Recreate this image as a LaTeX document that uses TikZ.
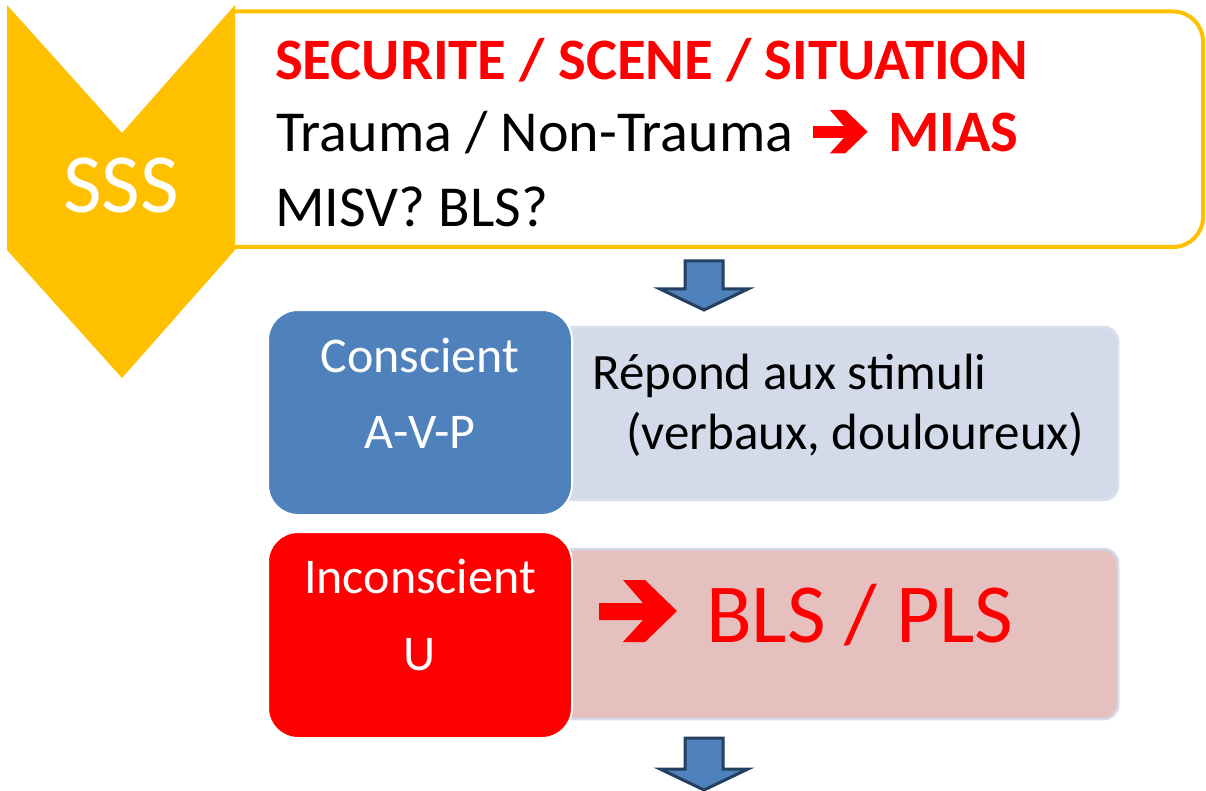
\documentclass[tikz,border=0pt]{standalone}
\usepackage{fontspec}
\setmainfont{Carlito}
\definecolor{sssyellow}{HTML}{FFC000}
\definecolor{accblue}{HTML}{4F81BD}
\definecolor{darkblue}{HTML}{243F60}
\definecolor{lightbox}{HTML}{D3DAEA}
\definecolor{pinkbox}{HTML}{E6BFBF}
\definecolor{pptred}{HTML}{FF0000}
\tikzset{
  downarrow/.style={fill=accblue, draw=darkblue, line width=3pt, line join=miter},
  sidebox/.style={line width=2.5pt},
  mainbox/.style={draw=white, line width=2pt, rounded corners=30pt},
  toptext/.style={anchor=base west, inner sep=0pt, font=\fontsize{58}{70}\selectfont},
  boxtext/.style={anchor=base, inner sep=0pt, text=white, font=\fontsize{50}{60}\selectfont},
  stimtext/.style={anchor=base west, inner sep=0pt, font=\fontsize{51}{62}\selectfont},
  wdarrow/.pic={\fill[pptred] (0,23) -- (44,23) -- (24,0) -- (46,0) -- (78,31) -- (46,62) -- (24,62) -- (44,40) -- (0,40) -- cycle;},
}
\begin{document}
\begin{tikzpicture}[x=1pt,y=-1pt]
\useasboundingbox (0,0) rectangle (1206,791);
% top white box with yellow border
\begin{scope}
\clip (235,0) rectangle (1206,260);
\draw[draw=sssyellow, fill=white, line width=4pt, rounded corners=30pt] (150,11.5) rectangle (1203,247);
\end{scope}
% chevron
\fill[sssyellow] (7,5) -- (122,133) -- (235,5) -- (235,250) -- (122,378) -- (7,250) -- cycle;
\node[anchor=base, inner sep=0pt, text=white, font=\fontsize{84}{100}\selectfont] (sss) at (121,213) {SSS};
% top texts
\node[toptext, text=pptred, font=\fontsize{58.7}{70}\selectfont\bfseries] (l1) at (275,80) {SECURITE / SCENE / SITUATION};
\node[toptext] (l2) at (276,152) {Trauma / Non-Trauma};
\pic[scale=0.7] at (813,110) {wdarrow};
\node[toptext, text=pptred, font=\fontsize{58.7}{70}\selectfont\bfseries] (mias) at (888,152) {MIAS};
\node[toptext] (l3) at (275,227) {MISV? BLS?};
% first down arrow
\filldraw[downarrow] (685,261) -- (723,261) -- (723,289) -- (748,289) -- (704,310) -- (660,289) -- (685,289) -- cycle;
% conscient row
\draw[sidebox, draw=lightbox!85!white, fill=lightbox, rounded corners=14pt] (520,327) rectangle (1118,500);
\draw[mainbox, fill=accblue] (268,310) rectangle (572,515);
\node[boxtext] (c1) at (420,372) {Conscient};
\node[boxtext] (c2) at (420,448) {A-V-P};
\node[stimtext] (r1) at (592,389) {Répond aux stimuli};
\node[stimtext] (r2) at (626,449) {(verbaux, douloureux)};
% inconscient row
\draw[sidebox, draw=lightbox, fill=pinkbox, rounded corners=14pt] (520,549) rectangle (1118,719);
\draw[mainbox, fill=pptred] (268,532) rectangle (572,738);
\node[boxtext] (i1) at (420,593) {Inconscient};
\node[boxtext] (i2) at (420,670) {U};
\pic at (599,580) {wdarrow};
\node[anchor=base west, inner sep=0pt, text=pptred, font=\fontsize{84}{100}\selectfont] (bls) at (706,642) {BLS / PLS};
% second down arrow
\filldraw[downarrow] (685,738) -- (723,738) -- (723,769) -- (748,769) -- (704,790) -- (660,769) -- (685,769) -- cycle;
\end{tikzpicture}
\end{document}
